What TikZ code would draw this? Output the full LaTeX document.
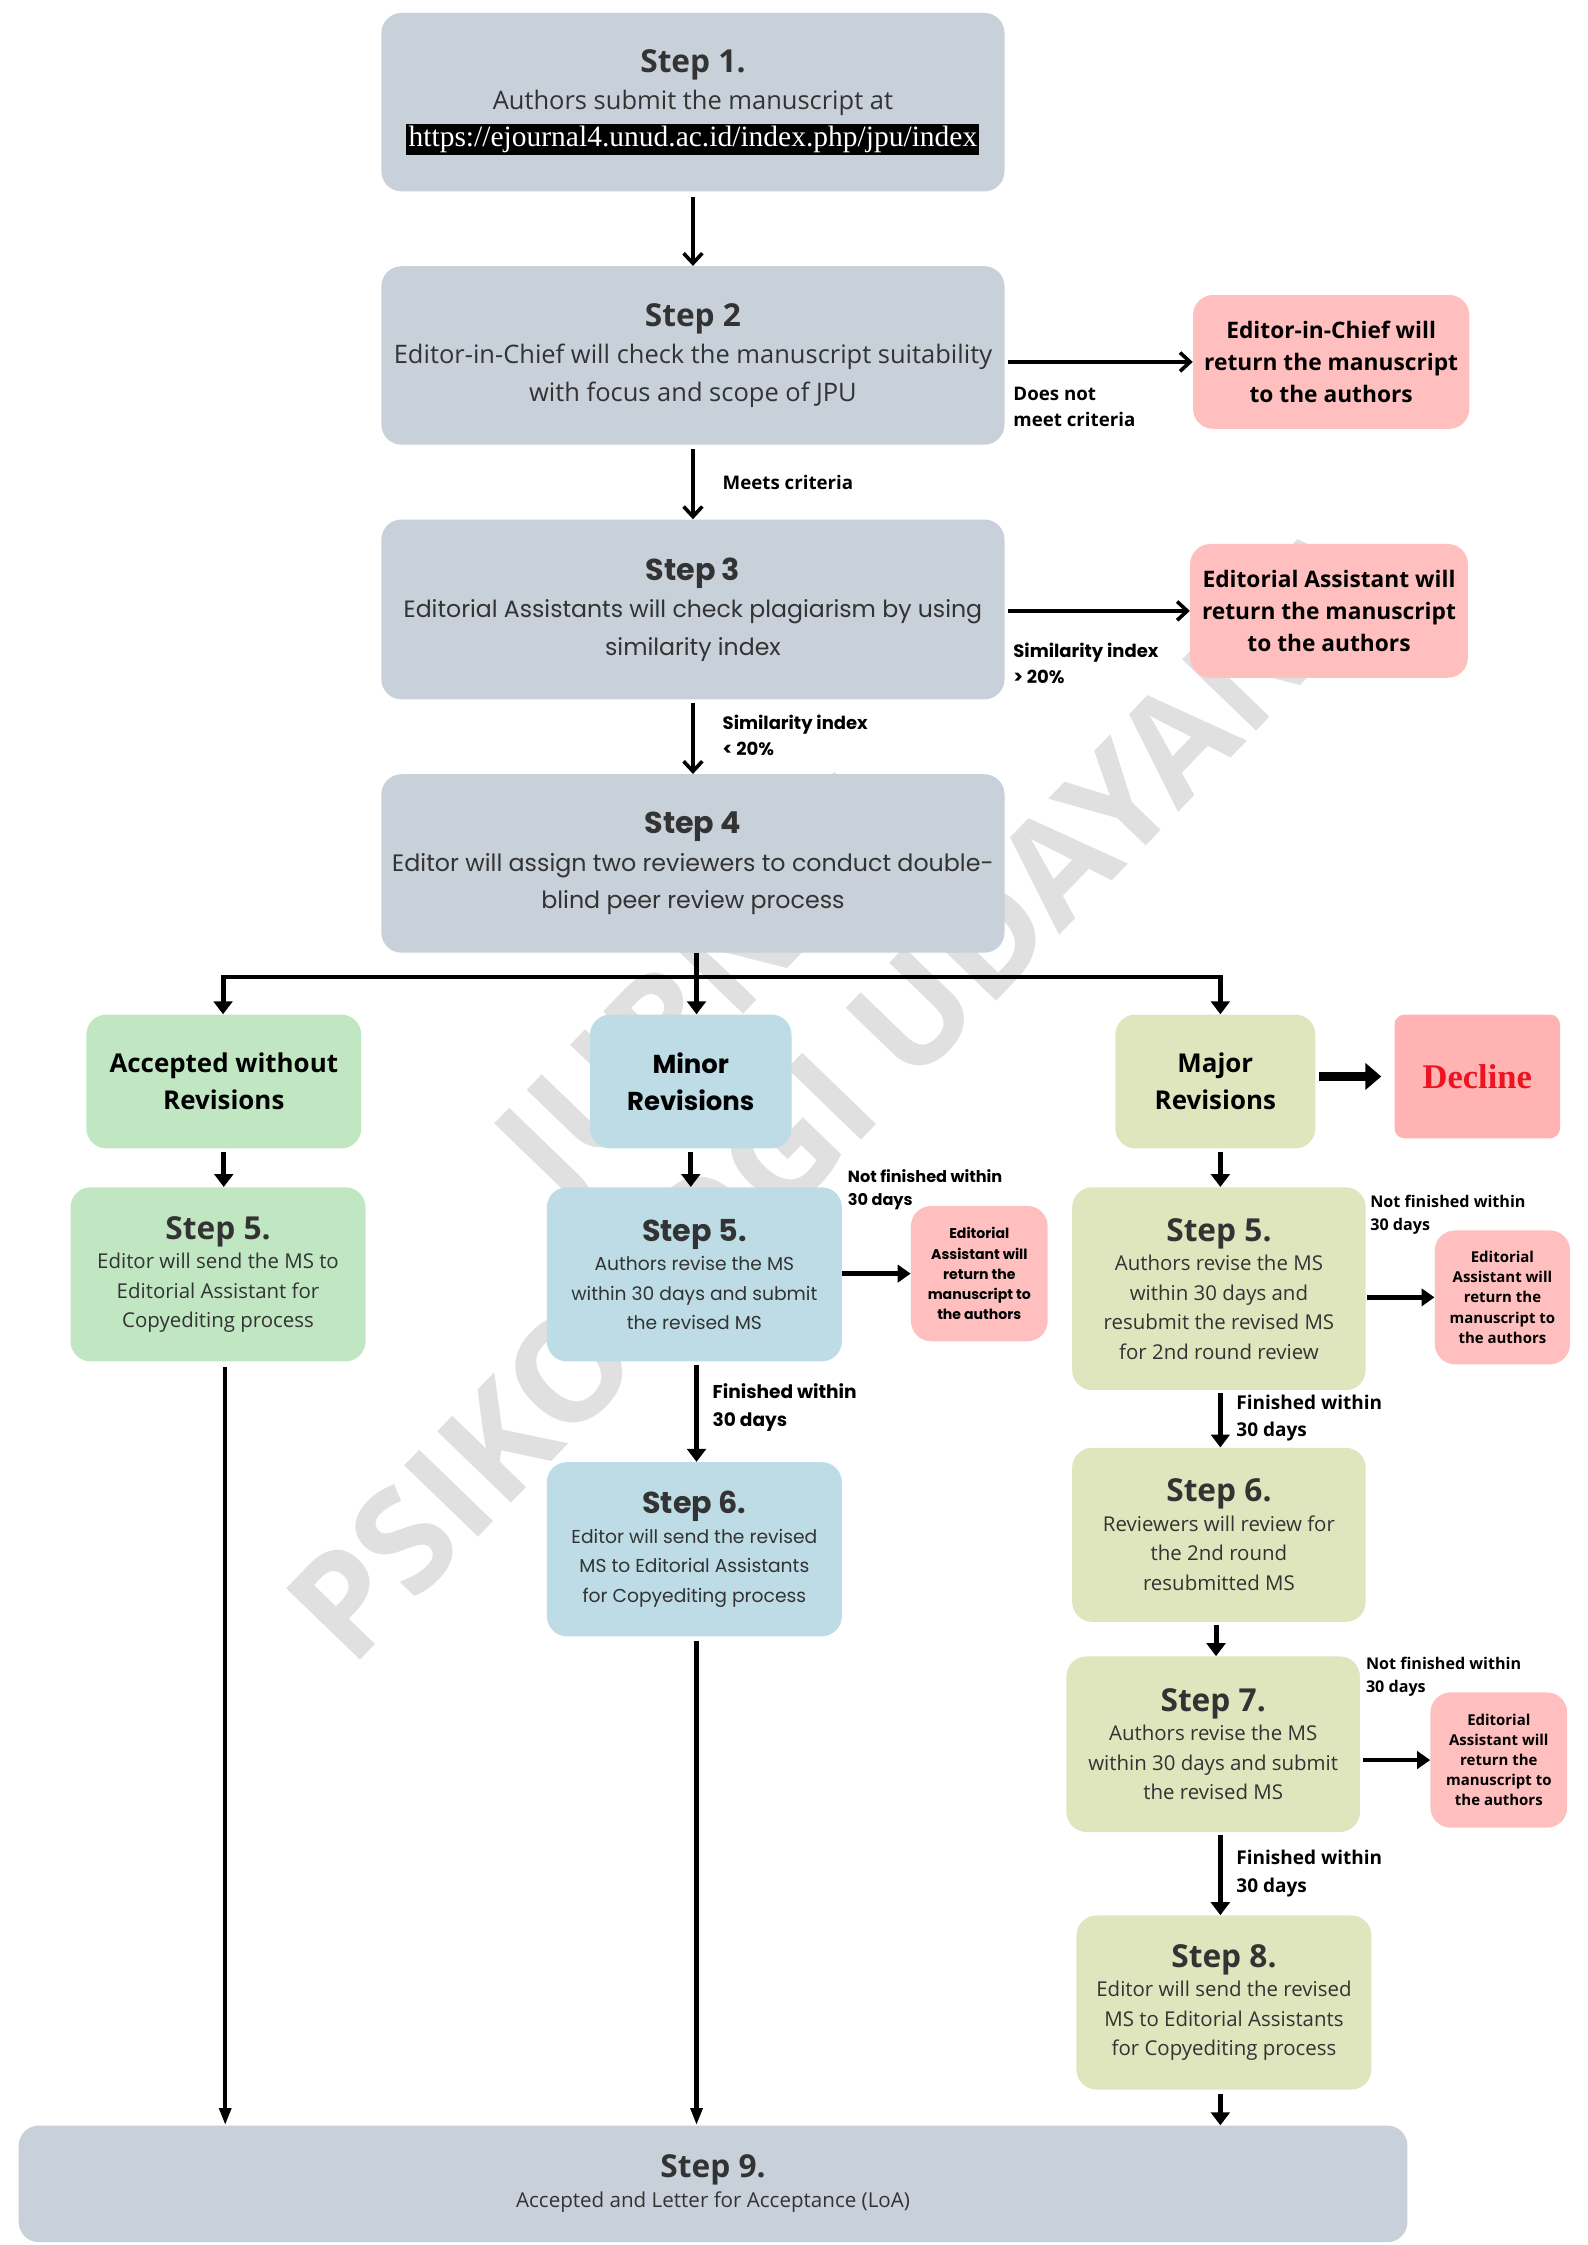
\documentclass[tikz,border=0pt]{standalone}
\usepackage{fontspec}
\setmainfont{Open Sans}
\newfontfamily\geo{Poppins}
\newfontfamily\serifurl{Liberation Serif}
\usetikzlibrary{arrows.meta,calc}

\definecolor{stepgray}{HTML}{C8D0DA}
\definecolor{accgreen}{HTML}{C0E6C2}
\definecolor{minorblue}{HTML}{BDDCE5}
\definecolor{majorolive}{HTML}{DFE5BD}
\definecolor{returnpink}{HTML}{FFBFBF}
\definecolor{declinepink}{HTML}{FFB3B3}
\definecolor{declinered}{HTML}{EC1421}
\definecolor{wmgray}{HTML}{E0E0E0}

\newcommand\ttl{\fontsize{22}{26}\bfseries}
\newcommand\gttl{\geo\fontsize{21}{26}\bfseries}
\newcommand\bigbody{\fontsize{17.7}{26}\selectfont}
\newcommand\colbody{\fontsize{14.2}{20.5}\selectfont}
\newcommand\urlbox[1]{{\setlength\fboxsep{1.5pt}\colorbox{black}{\serifurl\fontsize{20.5}{22}\selectfont\color{white}#1}}}

\begin{document}
\begin{tikzpicture}[x=1pt, y=-1pt, font=\bigbody,
    stepbox/.style={rounded corners=14pt, align=center, inner sep=0pt, text=black!80},
    headbox/.style={rounded corners=14pt, align=center, inner sep=0pt, font=\fontsize{18}{26}\bfseries},
    backbox/.style={rounded corners=14pt, align=center, inner sep=0pt, fill=returnpink, font=\fontsize{15.8}{22}\bfseries},
    smallback/.style={rounded corners=14pt, align=center, inner sep=0pt, fill=returnpink, minimum width=95pt, minimum height=94pt, font=\fontsize{10.4}{14}\bfseries},
    cond/.style={anchor=west, align=left, inner sep=0pt, font=\fontsize{13}{18}\bfseries},
    smallcond/.style={anchor=west, align=left, inner sep=0pt, font=\fontsize{11.2}{16}\bfseries},
    barb/.style={line width=2.5pt, -{Straight Barb[length=7pt,width=13pt]}},
    fillarrow/.style={line width=3.5pt, -{Triangle[length=9pt,width=13pt]}},
    longarrow/.style={line width=3pt, -{Triangle[length=12pt,width=8pt]}}]
    \useasboundingbox (0,0) rectangle (1103,1560);
    % watermark
    \node[rotate=46, align=center, text=wmgray, font=\fontsize{100}{120}\bfseries] (wm) at (539,717) {JURNAL\\PSIKOLOGI UDAYANA};

    \node[stepbox, fill=stepgray, minimum width=433pt, minimum height=124pt] (s1) at (481.5,71)
        {{\ttl Step 1.}\\Authors submit the manuscript at\\\urlbox{https://ejournal4.unud.ac.id/index.php/jpu/index}};
    \node[stepbox, fill=stepgray, minimum width=433pt, minimum height=124pt] (s2) at (481.5,247)
        {{\ttl Step 2}\\Editor-in-Chief will check the manuscript suitability\\with focus and scope of JPU};
    \node[stepbox, fill=stepgray, minimum width=433pt, minimum height=125pt, font=\geo\fontsize{16.4}{26}\selectfont] (s3) at (481.5,423.5)
        {{\gttl Step 3}\\Editorial Assistants will check plagiarism by using\\similarity index};
    \node[stepbox, fill=stepgray, minimum width=433pt, minimum height=124pt, font=\geo\fontsize{16.5}{26}\selectfont] (s4) at (481.5,600)
        {{\gttl Step 4}\\Editor will assign two reviewers to conduct double-\\blind peer review process};
    \node[backbox, minimum width=192pt, minimum height=93pt] (r1) at (925,251.5)
        {Editor-in-Chief will\\return the manuscript\\to the authors};
    \node[backbox, minimum width=193pt, minimum height=93pt] (r2) at (923.5,424.5)
        {Editorial Assistant will\\return the manuscript\\to the authors};

    % three outcomes
    \node[headbox, fill=accgreen, minimum width=191pt, minimum height=93pt] (acc) at (155.5,751.5) {Accepted without\\Revisions};
    \node[headbox, fill=minorblue, minimum width=140pt, minimum height=93pt, font=\geo\fontsize{18}{26}\bfseries] (minor) at (480,751.5) {Minor\\Revisions};
    \node[headbox, fill=majorolive, minimum width=139pt, minimum height=93pt] (major) at (844.5,751.5) {Major\\Revisions};
    \node[rounded corners=7pt, inner sep=0pt, fill=declinepink, minimum width=115pt, minimum height=86pt, text=declinered, font=\serifurl\fontsize{24}{26}\bfseries] (decl) at (1026.5,748) {Decline};

    \node[stepbox, fill=accgreen, minimum width=205pt, minimum height=121pt, font=\colbody] (g5) at (151.5,885.5)
        {{\ttl Step 5.}\\Editor will send the MS to\\Editorial Assistant for\\Copyediting process};
    \node[stepbox, fill=minorblue, minimum width=205pt, minimum height=121pt, font=\geo\fontsize{13}{20.5}\selectfont] (b5) at (482.5,885.5)
        {{\gttl Step 5.}\\Authors revise the MS\\within 30 days and submit\\the revised MS};
    \node[smallback, font=\geo\fontsize{9.8}{14}\bfseries] (br) at (680.5,885) {Editorial\\Assistant will\\return the\\manuscript to\\the authors};
    \node[stepbox, fill=minorblue, minimum width=205pt, minimum height=121pt, font=\geo\fontsize{13}{20.5}\selectfont] (b6) at (482.5,1076.5)
        {{\gttl Step 6.}\\Editor will send the revised\\MS to Editorial Assistants\\for Copyediting process};

    \node[stepbox, fill=majorolive, minimum width=204pt, minimum height=141pt, font=\colbody] (o5) at (847,895.5)
        {{\ttl Step 5.}\\Authors revise the MS\\within 30 days and\\resubmit the revised MS\\for 2nd round review};
    \node[smallback, minimum width=94pt, minimum height=93pt] (or5) at (1044,901.5) {Editorial\\Assistant will\\return the\\manuscript to\\the authors};
    \node[stepbox, fill=majorolive, minimum width=204pt, minimum height=121pt, font=\colbody] (o6) at (847,1066.5)
        {{\ttl Step 6.}\\Reviewers will review for\\the 2nd round\\resubmitted MS};
    \node[stepbox, fill=majorolive, minimum width=204pt, minimum height=122pt, font=\colbody] (o7) at (843,1212)
        {{\ttl Step 7.}\\Authors revise the MS\\within 30 days and submit\\the revised MS};
    \node[smallback] (or7) at (1041.5,1223) {Editorial\\Assistant will\\return the\\manuscript to\\the authors};
    \node[stepbox, fill=majorolive, minimum width=205pt, minimum height=121pt, font=\colbody] (o8) at (850.5,1391.5)
        {{\ttl Step 8.}\\Editor will send the revised\\MS to Editorial Assistants\\for Copyediting process};

    \node[stepbox, fill=stepgray, minimum width=965pt, minimum height=81pt, font=\fontsize{14.3}{21}\selectfont] (s9) at (495.5,1517.5)
        {{\ttl Step 9.}\\Accepted and Letter for Acceptance (LoA)};

    % conditions
    \node[cond] (c1) at (704,283) {Does not\\meet criteria};
    \node[cond] (c2) at (502,335) {Meets criteria};
    \node[cond, font=\geo\fontsize{12.5}{18}\bfseries] (c3) at (704,461) {Similarity index\\> 20\%};
    \node[cond, font=\geo\fontsize{12.5}{18}\bfseries] (c4) at (502,511) {Similarity index\\< 20\%};
    \node[smallcond, font=\geo\fontsize{11.2}{16}\bfseries] (c5) at (589,827) {Not finished within\\30 days};
    \node[cond, font=\geo\fontsize{12.9}{19}\bfseries] (c6) at (495,978) {Finished within\\30 days};
    \node[smallcond] (c7) at (952,844) {Not finished within\\30 days};
    \node[cond, font=\fontsize{13.2}{19}\bfseries] (c8) at (859,985.5) {Finished within\\30 days};
    \node[smallcond] (c9) at (949,1165) {Not finished within\\30 days};
    \node[cond, font=\fontsize{13.2}{19}\bfseries] (c10) at (859,1302) {Finished within\\30 days};

    % connectors
    \draw[barb] ([yshift=-4pt]s1.south) -- (s2.north);
    \draw[barb] ([xshift=2pt]s2.east |- r1.west) -- (r1.west);
    \draw[barb] ([yshift=-3pt]s2.south) -- (s3.north);
    \draw[barb] ([xshift=2pt]s3.east |- r2.west) -- (r2.west);
    \draw[barb] ([yshift=-2pt]s3.south) -- (s4.north);

    \coordinate (jl) at (155,679);
    \coordinate (jm) at (484,679);
    \coordinate (jr) at (848,679);
    \draw[line width=3pt] ([xshift=-1.5pt]jl) -- ([xshift=1.5pt]jr);
    \draw[fillarrow] (jm |- s4.south) -- (jm |- minor.north);
    \draw[fillarrow] (jl) -- (jl |- acc.north);
    \draw[fillarrow] (jr) -- (jr |- major.north);

    \draw[fillarrow] ([yshift=-2pt]acc.south) -- (acc.south |- g5.north);
    \draw[longarrow] ([xshift=5pt,yshift=-4pt]g5.south) -- ([xshift=5pt]g5.south |- s9.north);

    \draw[fillarrow] ([yshift=-2pt]minor.south) -- (minor.south |- b5.north);
    \draw[line width=3pt, -{Triangle[length=9pt,width=12pt]}] (b5.east |- br.west) -- (br.west);
    \draw[fillarrow] ([xshift=1.5pt,yshift=-2pt]b5.south) -- ([xshift=1.5pt]b5.north |- b6.north);
    \draw[longarrow] ([xshift=1.5pt,yshift=-3pt]b6.south) -- ([xshift=1.5pt]b6.south |- s9.north);

    \draw[fillarrow] ([xshift=3.5pt,yshift=-2pt]major.south) -- ([xshift=3.5pt]major.south |- o5.north);
    \draw[line width=6pt, -{Triangle[length=11pt,width=18pt]}] ([xshift=2pt]major.east |- decl.west) -- ([xshift=-9pt]decl.west);
    \draw[line width=3pt, -{Triangle[length=9pt,width=12pt]}] ([xshift=1pt]o5.east |- or5.west) -- (or5.west);
    \draw[fillarrow] ([xshift=1pt,yshift=-2pt]o5.south) -- ([xshift=1pt]o5.south |- o6.north);
    \draw[fillarrow] ([xshift=-2pt,yshift=-2pt]o6.south) -- ([xshift=-2pt]o6.south |- o7.north);
    \draw[line width=3pt, -{Triangle[length=9pt,width=12pt]}] ([xshift=2pt]o7.east |- or7.west) -- (or7.west);
    \draw[fillarrow] ([xshift=5pt,yshift=-2pt]o7.south) -- ([xshift=5pt]o7.south |- o8.north);
    \draw[fillarrow] ([xshift=-2.5pt,yshift=-3pt]o8.south) -- ([xshift=-2.5pt]o8.south |- s9.north);
\end{tikzpicture}
\end{document}
